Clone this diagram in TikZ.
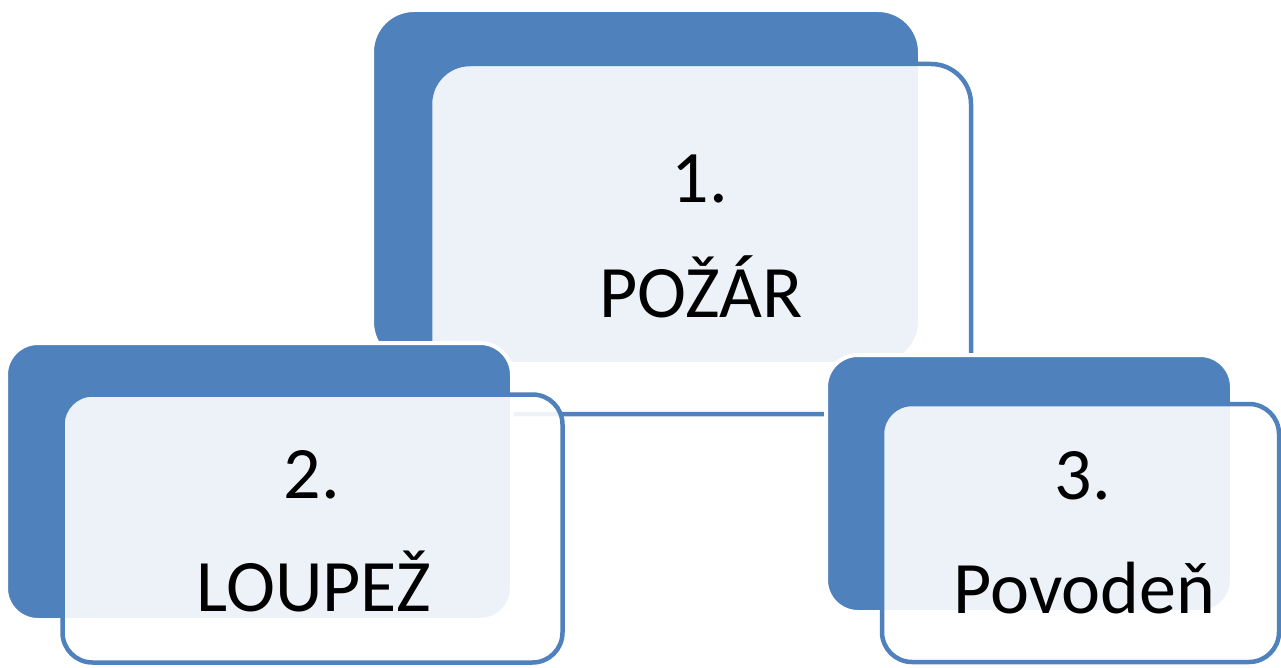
\documentclass[tikz,border=0pt]{standalone}
\usepackage{fontspec}
\setmainfont{Carlito}
\definecolor{accent}{HTML}{4F81BD}
\begin{document}
\begin{tikzpicture}[x=1pt,y=-1pt,
  backbox/.style={draw=white, line width=4pt, fill=accent, inner sep=0pt, outer sep=0pt},
  frontbox/.style={draw=accent, line width=4.5pt, fill=white, fill opacity=0.9, draw opacity=1, inner sep=0pt, outer sep=0pt},
  caption/.style={anchor=base, font=\fontsize{74}{88}\selectfont, text=black, inner sep=0pt}]
\useasboundingbox (0,0) rectangle (1281,668);

% group 1
\node[backbox, rounded corners=42pt, minimum width=548pt, minimum height=354pt] (b1) at (646,187) {};
\node[frontbox, rounded corners=40pt, minimum width=541pt, minimum height=350pt] (f1) at (700.5,239) {};

% group 2
\node[backbox, rounded corners=32pt, minimum width=506pt, minimum height=277pt] (b2) at (259,481.5) {};
\node[frontbox, rounded corners=30pt, minimum width=500pt, minimum height=268pt] (f2) at (312.5,528.5) {};

% group 3
\node[backbox, rounded corners=32pt, minimum width=406pt, minimum height=257pt] (b3) at (1029,483.5) {};
\node[frontbox, rounded corners=30pt, minimum width=397pt, minimum height=258pt] (f3) at (1080.5,533) {};

% labels
\node[caption] (n1) at (700,203) {1.};
\node[caption] (l1) at (701,317) {POŽÁR};
\node[caption] (n2) at (312,498) {2.};
\node[caption] (l2) at (314,611) {LOUPEŽ};
\node[caption] (n3) at (1083,499) {3.};
\node[caption] (l3) at (1084.5,613) {Povodeň};
\end{tikzpicture}
\end{document}
